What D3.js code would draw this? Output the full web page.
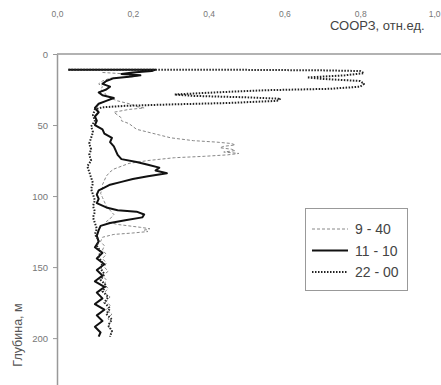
<!DOCTYPE html>
<html>
<head>
<meta charset="utf-8">
<script src="https://cdn.jsdelivr.net/npm/d3@7"></script>
<style>
  body { margin: 0; background: #fff; }
  svg { display: block; font-family: 'Liberation Sans', Arial, sans-serif; }
</style>
</head>
<body>
<svg id="chart" width="441" height="385"></svg>
<script>
// [depth m, value] pairs
const series0940 = [
  [13, 0.12], [14, 0.18], [15, 0.22], [16, 0.2], [17, 0.14], [19, 0.12], [21, 0.11],
  [23, 0.12], [25, 0.115], [27, 0.125], [29, 0.13], [31, 0.14], [33, 0.16], [35, 0.19],
  [37, 0.21], [38, 0.23], [39, 0.19], [41, 0.15], [43, 0.16], [45, 0.17], [47, 0.17],
  [49, 0.19], [51, 0.2], [53, 0.21], [55, 0.24], [57, 0.27], [59, 0.3], [61, 0.36],
  [62, 0.42], [63, 0.46], [64, 0.47], [65, 0.44], [66, 0.43], [67, 0.46], [68, 0.47],
  [69, 0.44], [70, 0.48], [71, 0.45], [72, 0.39], [73, 0.31], [75, 0.24], [77, 0.19],
  [79, 0.17], [81, 0.15], [83, 0.14], [86, 0.13], [89, 0.125], [92, 0.12], [95, 0.12],
  [98, 0.115], [101, 0.12], [104, 0.125], [107, 0.13], [110, 0.14], [113, 0.15],
  [116, 0.14], [118, 0.13], [120, 0.16], [122, 0.22], [123, 0.245], [124, 0.23],
  [125, 0.24], [126, 0.2], [127, 0.15], [129, 0.12], [132, 0.115], [135, 0.125],
  [138, 0.12], [141, 0.13], [144, 0.12], [147, 0.13], [150, 0.125], [153, 0.135],
  [156, 0.12], [159, 0.13], [162, 0.125], [165, 0.135], [168, 0.125], [171, 0.14],
  [174, 0.13], [177, 0.14], [180, 0.13], [183, 0.145], [186, 0.135], [189, 0.14],
  [192, 0.135], [195, 0.145], [198, 0.14]
];
const series1110 = [
  [11, 0.03], [11, 0.15], [11, 0.26], [12, 0.25], [13, 0.2], [14, 0.17], [15, 0.22],
  [16, 0.19], [17, 0.15], [19, 0.13], [21, 0.12], [23, 0.14], [25, 0.13], [27, 0.11],
  [29, 0.12], [31, 0.15], [33, 0.13], [35, 0.11], [38, 0.1], [41, 0.11], [44, 0.1],
  [47, 0.105], [50, 0.1], [53, 0.12], [56, 0.125], [59, 0.145], [62, 0.14], [65, 0.15],
  [68, 0.155], [71, 0.16], [74, 0.17], [76, 0.21], [78, 0.24], [80, 0.27], [82, 0.26],
  [84, 0.29], [86, 0.24], [88, 0.2], [90, 0.17], [92, 0.14], [94, 0.125], [96, 0.11],
  [99, 0.105], [102, 0.11], [105, 0.105], [108, 0.13], [110, 0.16], [111, 0.21],
  [113, 0.23], [115, 0.225], [117, 0.18], [119, 0.14], [121, 0.115], [124, 0.11],
  [128, 0.105], [132, 0.11], [136, 0.1], [140, 0.12], [144, 0.105], [148, 0.125],
  [152, 0.105], [156, 0.12], [160, 0.1], [164, 0.125], [168, 0.105], [172, 0.12],
  [176, 0.1], [180, 0.125], [184, 0.105], [188, 0.12], [192, 0.1], [196, 0.115],
  [199, 0.11]
];
const series2200 = [
  [11, 0.03], [11, 0.4], [11.5, 0.7], [12, 0.8], [13.5, 0.81], [15, 0.76], [16.5, 0.66],
  [17.5, 0.7], [19, 0.8], [21, 0.81], [23, 0.8], [24.5, 0.72], [25.5, 0.55], [27, 0.42],
  [28.5, 0.31], [29.5, 0.36], [30.5, 0.5], [31.5, 0.59], [33, 0.58], [34.5, 0.45],
  [35.5, 0.3], [36.5, 0.18], [37.5, 0.12], [39, 0.1], [43, 0.095], [47, 0.1], [51, 0.09],
  [55, 0.095], [59, 0.09], [63, 0.085], [67, 0.09], [71, 0.085], [75, 0.09], [79, 0.08],
  [83, 0.085], [87, 0.09], [91, 0.095], [95, 0.09], [99, 0.095], [103, 0.1], [107, 0.095],
  [111, 0.1], [115, 0.095], [119, 0.1], [123, 0.105], [127, 0.1], [131, 0.11],
  [135, 0.105], [139, 0.115], [143, 0.11], [147, 0.12], [151, 0.115], [155, 0.125],
  [159, 0.115], [163, 0.13], [167, 0.12], [171, 0.135], [175, 0.125], [179, 0.14],
  [183, 0.13], [187, 0.145], [191, 0.135], [195, 0.145], [199, 0.14]
];

const legendLabels = ['9 - 40', '11 - 10', '22 - 00'];
const xTicks = [0, 0.2, 0.4, 0.6, 0.8, 1.0];
const xTickLabels = ['0,0', '0,2', '0,4', '0,6', '0,8', '1,0'];
const yTicks = [0, 50, 100, 150, 200];

const svg = d3.select('#chart');

const x = d3.scaleLinear().domain([0, 1]).range([57, 436]);
const y = d3.scaleLinear().domain([0, 233]).range([54, 385]);

// top axis, labels sit well above the line
const xAxis = svg.append('g')
  .attr('transform', 'translate(0,54)')
  .call(d3.axisTop(x)
    .tickValues(xTicks)
    .tickSize(0)
    .tickPadding(37)
    .tickFormat(function(d, i) { return xTickLabels[i]; }));
xAxis.select('.domain').attr('stroke', '#999').attr('stroke-width', 1.5).attr('d', 'M57,0H441');
xAxis.selectAll('text').attr('fill', '#777').attr('font-size', 8.5);
// last label would run off the edge
xAxis.selectAll('.tick:last-of-type text').attr('text-anchor', 'end').attr('x', 4);

const yAxis = svg.append('g')
  .attr('transform', 'translate(57,0)')
  .call(d3.axisLeft(y).tickValues(yTicks).tickSize(4).tickSizeOuter(0).tickPadding(5));
yAxis.select('.domain').attr('stroke', '#999').attr('stroke-width', 1.5);
yAxis.selectAll('line').attr('stroke', '#999');
yAxis.selectAll('text').attr('fill', '#777').attr('font-size', 9.5);

svg.append('text')
  .attr('x', 330)
  .attr('y', 30)
  .attr('fill', '#444')
  .attr('font-size', 13)
  .text('СООРЗ, отн.ед.');

svg.append('text')
  .attr('transform', 'translate(22,335) rotate(-90)')
  .attr('text-anchor', 'middle')
  .attr('fill', '#555')
  .attr('font-size', 12.5)
  .text('Глубина, м');

const line = d3.line()
  .x(function(d) { return x(d[1]); })
  .y(function(d) { return y(d[0]); });

const styles = [
  { stroke: '#888', width: 1, dash: '3,2' },
  { stroke: '#111', width: 2, dash: null },
  { stroke: '#222', width: 2, dash: '1.5,1.5' }
];

[series0940, series1110, series2200].forEach(function(s, i) {
  svg.append('path')
    .datum(s)
    .attr('fill', 'none')
    .attr('stroke', styles[i].stroke)
    .attr('stroke-width', styles[i].width)
    .attr('stroke-dasharray', styles[i].dash)
    .attr('stroke-linejoin', 'round')
    .attr('d', line);
});

// legend
const legend = svg.append('g');
legend.append('rect')
  .attr('x', 305.5).attr('y', 208.5)
  .attr('width', 102).attr('height', 82)
  .attr('fill', '#fff')
  .attr('stroke', '#999');

legendLabels.forEach(function(lbl, i) {
  const ly = 229 + i * 21.5;
  legend.append('line')
    .attr('x1', 312).attr('x2', 348)
    .attr('y1', ly).attr('y2', ly)
    .attr('stroke', styles[i].stroke)
    .attr('stroke-width', styles[i].width)
    .attr('stroke-dasharray', styles[i].dash);
  legend.append('text')
    .attr('x', 355).attr('y', ly + 5)
    .attr('fill', '#444')
    .attr('font-size', 14)
    .text(lbl);
});
</script>
</body>
</html>
